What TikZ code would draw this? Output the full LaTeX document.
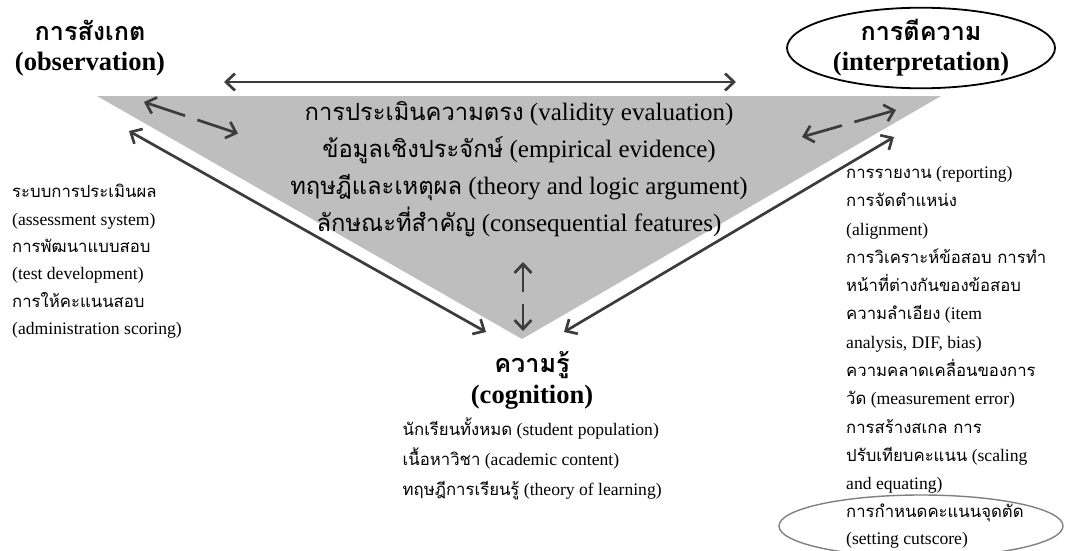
\documentclass[tikz,border=0pt]{standalone}
\usepackage{fontspec}
\setmainfont{Liberation Serif}
\newfontfamily\thai[Script=Thai, Scale=0.95]{Loma}
\usetikzlibrary{arrows.meta, positioning, shapes.geometric}

\begin{document}
\begin{tikzpicture}[x=1pt, y=-1pt,
        corner/.style={font=\fontsize{26.5}{30}\selectfont\bfseries,
                align=center, inner sep=0pt},
        core/.style={font=\fontsize{25}{36.8}\selectfont,
                align=center, inner sep=0pt},
        side/.style={font=\fontsize{17.6}{28.3}\selectfont,
                align=left, inner sep=0pt},
        link/.style={{Straight Barb[length=9pt, width=17pt]}-{Straight Barb[length=9pt, width=17pt]},
                line width=2.7pt, color={rgb,255:red,60;green,60;blue,60}},
        dlink/.style={link, dash pattern=on 40pt off 13pt},
        ring/.style={draw, ellipse, inner sep=0pt}
    ]
    \useasboundingbox (0,0) rectangle (1066,551);

    % ---------------------------------------------------------------
    % TRIANGLE
    % ---------------------------------------------------------------
    \coordinate (tl) at (97,96);
    \coordinate (tr) at (941,96);
    \coordinate (apex) at (522,339);
    \fill[fill={rgb,255:red,190;green,190;blue,190}] (tl) -- (tr) -- (apex) -- cycle;

    % ---------------------------------------------------------------
    % NODES
    % ---------------------------------------------------------------

    % Observation corner
    \node[corner] (obs) at (90,48) {{\thai การสังเกต}\\(observation)};

    % Interpretation corner
    \node[corner, ring, line width=1.8pt, minimum width=268, minimum height=76]
        (interp) at (921,48) {{\thai การตีความ}\\(interpretation)};

    % Validity evaluation (inside the triangle)
    \node[core] (valid) at (519,169)
        {{\thai การประเมินความตรง} (validity evaluation)\\
         {\thai ข้อมูลเชิงประจักษ์} (empirical evidence)\\
         {\thai ทฤษฎีและเหตุผล} (theory and logic argument)\\
         {\thai ลักษณะที่สำคัญ} (consequential features)};

    % Cognition corner
    \node[corner, font=\fontsize{26.5}{31}\selectfont\bfseries] (cog) at (532,380)
        {{\thai ความรู้}\\(cognition)};
    \node[side, font=\fontsize{17.6}{30}\selectfont, anchor=north west] (coglist) at (402.5,418)
        {{\thai นักเรียนทั้งหมด} (student population)\\
         {\thai เนื้อหาวิชา} (academic content)\\
         {\thai ทฤษฎีการเรียนรู้} (theory of learning)};

    % Observation side
    \node[side, font=\fontsize{17.6}{27.4}\selectfont, anchor=north west] (obslist) at (12,184)
        {{\thai ระบบการประเมินผล}\\
         (assessment system)\\
         {\thai การพัฒนาแบบสอบ}\\
         (test development)\\
         {\thai การให้คะแนนสอบ}\\
         (administration scoring)};

    % Interpretation side
    \node[side, anchor=north west] (intlist) at (846,166)
        {{\thai การรายงาน} (reporting)\\
         {\thai การจัดตำแหน่ง}\\
         (alignment)\\
         {\thai การวิเคราะห์ข้อสอบ การทำ}\\
         {\thai หน้าที่ต่างกันของข้อสอบ}\\
         {\thai ความลำเอียง} (item\\
         analysis, DIF, bias)\\
         {\thai ความคลาดเคลื่อนของการ}\\
         {\thai วัด} (measurement error)\\
         {\thai การสร้างสเกล การ}\\
         {\thai ปรับเทียบคะแนน} (scaling\\
         and equating)};

    % Cut score (circled)
    \node[ring, draw={rgb,255:red,128;green,128;blue,128}, line width=1.4pt,
          minimum width=284, minimum height=62] (cutring) at (921,526) {};
    \node[side, anchor=north west, font=\fontsize{17.6}{26.5}\selectfont] (cut) at (846,504)
        {{\thai การกำหนดคะแนนจุดตัด}\\(setting cutscore)};

    % ---------------------------------------------------------------
    % ARROWS
    % ---------------------------------------------------------------
    \coordinate (topL) at (224,82);
    \coordinate (topR) at (736,82);
    \coordinate (dlA) at (144,102);
    \coordinate (dlB) at (238,133.5);
    \coordinate (drA) at (896,110);
    \coordinate (drB) at (802,137);
    \coordinate (slA) at (129,131);
    \coordinate (slB) at (486,332);
    \coordinate (srA) at (894,137);
    \coordinate (srB) at (564,332);
    \coordinate (vA) at (523,262);
    \coordinate (vB) at (523,331);

    \draw[link] (topL) -- (topR);
    \draw[dlink] (dlA) -- (dlB);
    \draw[dlink] (drA) -- (drB);
    \draw[link] (slA) -- (slB);
    \draw[link] (srA) -- (srB);
    \draw[link, dash pattern=on 27pt off 12pt] (vA) -- (vB);

\end{tikzpicture}
\end{document}
